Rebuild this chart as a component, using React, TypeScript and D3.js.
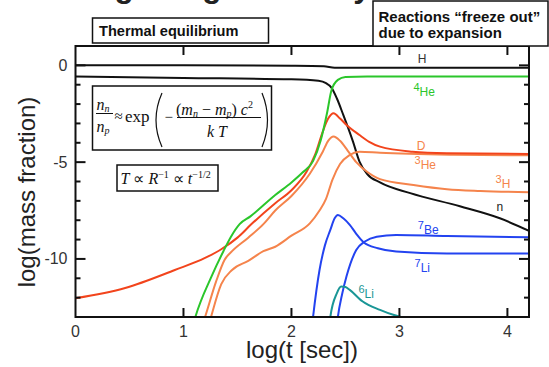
import React from "react";
import * as d3 from "d3";

const W = 549;
const H = 367;

const xDomain: [number, number] = [0, 4.2];
const yDomain: [number, number] = [-13, 1];
const xTickValues = [0, 1, 2, 3, 4];
const yTickLabelValues = [0, -5, -10];
const yMinorTickValues = [-12, -11, -10, -9, -8, -7, -6, -5, -4, -3, -2, -1, 0];

// [log t, log mass fraction]
const hydrogen: [number, number][] = [[0, 0], [1, 0], [2, -0.02], [2.3, -0.04], [2.4, -0.12], [3, -0.12], [4.2, -0.12]];
const neutron: [number, number][] = [[0, -0.58], [1, -0.65], [2, -0.72], [2.25, -0.8], [2.32, -0.92], [2.37, -1.15], [2.42, -1.7], [2.48, -2.56], [2.57, -3.94], [2.63, -4.97], [2.7, -5.6], [2.82, -6.05], [3.1, -6.6], [3.56, -7.28], [3.93, -7.9], [4.2, -8.55]];
const helium4: [number, number][] = [[1.08, -13.6], [1.11, -13], [1.26, -10.9], [1.37, -9.6], [1.44, -8.85], [1.52, -8.2], [1.62, -7.8], [1.85, -6.7], [2.0, -6.05], [2.1, -5.55], [2.2, -4.95], [2.27, -3.9], [2.33, -2.45], [2.37, -1.3], [2.43, -0.75], [2.5, -0.6], [2.7, -0.57], [4.2, -0.57]];
const deuterium: [number, number][] = [[0, -12.03], [0.46, -11.5], [0.92, -10.57], [1.2, -9.95], [1.35, -9.5], [1.5, -8.9], [1.63, -8.2], [1.85, -7.12], [2.0, -6.45], [2.14, -5.5], [2.22, -4.6], [2.29, -3.42], [2.34, -2.75], [2.39, -2.47], [2.45, -2.75], [2.51, -3.08], [2.63, -3.6], [2.72, -3.95], [2.82, -4.2], [3.12, -4.46], [3.44, -4.54], [4.2, -4.58]];
const tritium: [number, number][] = [[1.17, -13.5], [1.2, -13], [1.3, -11.2], [1.38, -10.05], [1.45, -9.6], [1.6, -8.9], [1.74, -8.2], [1.85, -7.5], [2.0, -6.75], [2.17, -5.6], [2.29, -4.46], [2.34, -3.9], [2.39, -3.68], [2.45, -3.9], [2.52, -4.4], [2.6, -5.0], [2.7, -5.5], [2.82, -5.88], [3.13, -6.18], [3.44, -6.4], [3.75, -6.49], [4.2, -6.55]];
const helium3: [number, number][] = [[1.23, -13.5], [1.255, -13], [1.35, -11.3], [1.45, -10.57], [1.6, -10.1], [1.74, -9.6], [1.85, -9.37], [2.0, -8.8], [2.17, -8.16], [2.26, -7.5], [2.32, -6.9], [2.38, -5.9], [2.45, -5.1], [2.54, -4.63], [2.63, -4.46], [2.82, -4.52], [3.5, -4.62], [4.2, -4.65]];
const lithium7: [number, number][] = [[2.18, -14], [2.2, -13], [2.26, -10.57], [2.31, -9.3], [2.36, -8.5], [2.4, -7.9], [2.43, -7.73], [2.48, -7.9], [2.54, -8.24], [2.6, -8.7], [2.67, -9.15], [2.8, -9.45], [2.97, -9.62], [3.44, -9.72], [4.2, -9.72]];
const beryllium7: [number, number][] = [[2.41, -14], [2.43, -13], [2.47, -11.8], [2.51, -10.9], [2.6, -9.54], [2.68, -9.1], [2.79, -8.85], [2.97, -8.76], [3.44, -8.82], [4.2, -8.88]];
const lithium6: [number, number][] = [[2.34, -14], [2.36, -13], [2.42, -11.78], [2.46, -11.43], [2.5, -11.45], [2.54, -11.6], [2.66, -12.2], [2.82, -12.63], [2.95, -12.9], [3.05, -13.05], [3.1, -13.2]];

const C_BLACK = "#111";
const C_GREEN = "#2bc62b";
const C_D = "#f2441c";
const C_ORANGE = "#f5844c";
const C_BLUE = "#2343f0";
const C_TEAL = "#1a9696";

const series = [
  { name: "H", data: hydrogen, color: C_BLACK },
  { name: "n", data: neutron, color: C_BLACK },
  { name: "3He", data: helium3, color: C_ORANGE },
  { name: "3H", data: tritium, color: C_ORANGE },
  { name: "D", data: deuterium, color: C_D },
  { name: "4He", data: helium4, color: C_GREEN },
  { name: "7Li", data: lithium7, color: C_BLUE },
  { name: "7Be", data: beryllium7, color: C_BLUE },
  { name: "6Li", data: lithium6, color: C_TEAL },
];

// curve labels: superscript, main text, anchor in data coords
const curveLabels = [
  { sup: "", main: "H", x: 3.17, y: 0.12, color: "#333" },
  { sup: "4", main: "He", x: 3.13, y: -1.58, color: C_GREEN },
  { sup: "", main: "D", x: 3.16, y: -4.37, color: C_ORANGE },
  { sup: "3", main: "He", x: 3.14, y: -5.35, color: C_ORANGE },
  { sup: "3", main: "H", x: 3.89, y: -6.33, color: C_ORANGE },
  { sup: "", main: "n", x: 3.9, y: -7.5, color: "#222" },
  { sup: "7", main: "Be", x: 3.17, y: -8.7, color: C_BLUE },
  { sup: "7", main: "Li", x: 3.14, y: -10.67, color: C_BLUE },
  { sup: "6", main: "Li", x: 2.62, y: -12.0, color: C_TEAL },
];

const SANS = "'Liberation Sans', Arial, Helvetica, sans-serif";
const SERIF = "'Liberation Serif', 'Times New Roman', serif";

export default function App() {
  const left = 75.5, right = 529, top = 46, bottom = 317;
  const x = d3.scaleLinear().domain(xDomain).range([left, right]);
  const y = d3.scaleLinear().domain(yDomain).range([bottom, top]);
  const line = d3.line<[number, number]>().x(d => x(d[0])).y(d => y(d[1])).curve(d3.curveMonotoneX);

  return (
    <svg width={W} height={H} style={{ position: "absolute", left: 0, top: 0, background: "#fff" }}>
      <defs>
        <clipPath id="plotclip">
          <rect x={left} y={top} width={right - left} height={bottom - top} />
        </clipPath>
      </defs>
      {/* cut-off slide title */}
      <text x={83} y={-3} fontFamily={SANS} fontWeight="bold" fontSize={31.6} fill="#222">Big Bang Nucleosynthesis</text>

      {/* curves */}
      <g clipPath="url(#plotclip)">
        {series.map(s => (
          <path key={s.name} d={line(s.data) || ""} fill="none" stroke={s.color} strokeWidth={2} strokeLinejoin="round" />
        ))}
      </g>

      {/* frame */}
      <rect x={left} y={top} width={right - left} height={bottom - top} fill="none" stroke="#111" strokeWidth={2} />
      {/* x ticks */}
      {xTickValues.map(v => (
        <g key={"xt" + v}>
          {v > 0 && <line x1={x(v)} x2={x(v)} y1={bottom} y2={bottom - 9} stroke="#111" strokeWidth={2} />}
          {v > 0 && <line x1={x(v)} x2={x(v)} y1={top} y2={top + 9} stroke="#111" strokeWidth={2} />}
          <text x={x(v)} y={bottom + 20} textAnchor="middle" fontFamily={SANS} fontSize={16} fill="#333">{v}</text>
        </g>
      ))}
      {/* y ticks */}
      {yMinorTickValues.map(v => {
        const major = yTickLabelValues.includes(v);
        const len = major ? 10 : 5;
        return (
          <g key={"yt" + v}>
            <line x1={left} x2={left + len} y1={y(v)} y2={y(v)} stroke="#111" strokeWidth={2} />
            <line x1={right} x2={right - len} y1={y(v)} y2={y(v)} stroke="#111" strokeWidth={2} />
          </g>
        );
      })}
      {yTickLabelValues.map(v => (
        <text key={"yl" + v} x={left - 8} y={y(v) + 5.5} textAnchor="end" fontFamily={SANS} fontSize={16} fill="#333">{v}</text>
      ))}

      {/* axis titles */}
      <text x={302} y={358} textAnchor="middle" fontFamily={SANS} fontSize={24} fill="#222">log(t [sec])</text>
      <text transform="translate(35,192) rotate(-90)" textAnchor="middle" fontFamily={SANS} fontSize={24} fill="#222">log(mass fraction)</text>

      {/* curve labels */}
      {curveLabels.map((l, i) => (
        <text key={"cl" + i} x={x(l.x)} y={y(l.y)} fontFamily={SANS} fontSize={12} fill={l.color}>
          {l.sup && <tspan fontSize={11} dy={-5}>{l.sup}</tspan>}
          {l.sup ? <tspan dy={5}>{l.main}</tspan> : l.main}
        </text>
      ))}

      {/* annotation boxes */}
      <rect x={92.5} y={18} width={176} height={25} fill="#fff" stroke="#111" strokeWidth={1.5} />
      <text x={99} y={35.5} fontFamily={SANS} fontWeight="bold" fontSize={14.6} fill="#111">Thermal equilibrium</text>

      <rect x={373} y={1} width={175} height={45} fill="#fff" stroke="#111" strokeWidth={1.5} />
      <text x={378.5} y={21.5} fontFamily={SANS} fontWeight="bold" fontSize={15} fill="#111">Reactions “freeze out”</text>
      <text x={378.5} y={38} fontFamily={SANS} fontWeight="bold" fontSize={15} fill="#111">due to expansion</text>

      {/* Boltzmann formula */}
      <rect x={92.5} y={86} width={179} height={64} fill="#fff" stroke="#111" strokeWidth={1.5} />
      <g fontFamily={SERIF} fill="#111">
        <text x={96.5} y={110} fontSize={16} fontStyle="italic">n<tspan fontSize={10} dy={2}>n</tspan></text>
        <line x1={96} x2={113} y1={113.5} y2={113.5} stroke="#111" strokeWidth={1} />
        <text x={96.5} y={131.5} fontSize={16} fontStyle="italic">n<tspan fontSize={10} dy={2}>p</tspan></text>
        <text x={114.5} y={121} fontSize={15}>≈</text>
        <text x={125} y={122} fontSize={17}>exp</text>
        <path d="M 162 93 Q 150 120 162 147" fill="none" stroke="#111" strokeWidth={1.2} />
        <text x={164.5} y={122} fontSize={15}>−</text>
        <text x={176} y={114.5} fontSize={16}>(<tspan fontStyle="italic">m</tspan><tspan fontSize={10} dy={2} fontStyle="italic">n</tspan><tspan dy={-2}> − </tspan><tspan fontStyle="italic">m</tspan><tspan fontSize={10} dy={2} fontStyle="italic">p</tspan><tspan dy={-2}>) </tspan><tspan fontStyle="italic">c</tspan><tspan fontSize={10} dy={-7}>2</tspan></text>
        <line x1={177} x2={261} y1={117.5} y2={117.5} stroke="#111" strokeWidth={1} />
        <text x={207} y={136.5} fontSize={16} fontStyle="italic">k T</text>
        <path d="M 262 93 Q 273 120 262 147" fill="none" stroke="#111" strokeWidth={1.2} />
      </g>

      {/* T ∝ R^-1 ∝ t^-1/2 */}
      <rect x={117} y={165} width={101} height={26} fill="#fff" stroke="#111" strokeWidth={1.5} />
      <text x={120.5} y={183.5} fontFamily={SERIF} fontSize={16} fill="#111">
        <tspan fontStyle="italic">T</tspan> ∝ <tspan fontStyle="italic">R</tspan><tspan fontSize={10} dy={-6}>−1</tspan><tspan dy={6}> ∝ </tspan><tspan fontStyle="italic">t</tspan><tspan fontSize={10} dy={-6}>−1/2</tspan>
      </text>
    </svg>
  );
}
